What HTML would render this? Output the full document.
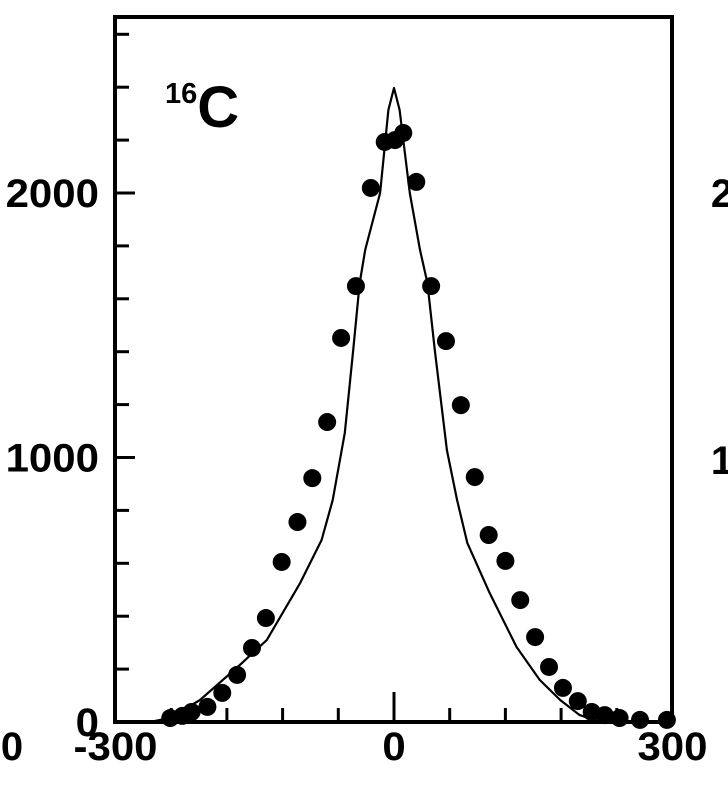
<!DOCTYPE html>
<html><head><meta charset="utf-8"><style>
html,body{margin:0;padding:0;background:#fff;}
svg{display:block;}
text{font-family:"Liberation Sans",sans-serif;font-weight:bold;fill:#000;}
</style></head><body>
<svg id="chart" width="728" height="794" viewBox="0 0 728 794" xmlns="http://www.w3.org/2000/svg">
<g id="plot"></g>
</svg>
<script>
const xTickLabels = [-300, 0, 300];
const yTickLabels = [0, 1000, 2000];
const dataX = [-241,-228,-218,-201,-185,-169,-153,-138,-121,-104,-88,-72,-57,-41,-25,-10,1,10,24,40,56,72,87,102,120,136,152,167,182,198,213,227,243,265,294];
const dataY = [15,23,38,57,110,178,280,393,605,756,922,1134,1452,1648,2019,2193,2200,2227,2042,1648,1440,1198,926,707,609,461,321,208,129,79,38,26,15,8,8];
const curveX = [-300,-263,-241,-209,-166,-137,-101,-78,-66,-53,-44,-37,-31,-15,-6,0,6,17,28,36,44,57,68,79,103,132,157,179,200,222,300];
const curveY = [0,0,15,83,216,310,526,688,839,1093,1406,1660,1785,2000,2314,2397,2314,2000,1785,1660,1406,1028,839,677,488,284,159,83,26,0,0];

const L=115,R=672,T=17,B=722;
const xs = v => 394 + v*0.9283;
const ys = v => B - v*0.2645;
const NS="http://www.w3.org/2000/svg";
const g=document.getElementById('plot');
function mk(tag,attrs){const e=document.createElementNS(NS,tag);for(const k in attrs)e.setAttribute(k,attrs[k]);g.appendChild(e);return e;}

let fr=mk('rect',{x:L,y:T,width:R-L,height:B-T,fill:'none',stroke:'#000','stroke-width':4});



for(let v=0; v<=2600; v+=200){
  const major = v%1000===0;
  const t=mk('line',{x1:L,x2:L+(major?20:14),y1:ys(v),y2:ys(v),stroke:'#000','stroke-width':3});
  
  
}
for(let v=-240; v<=240; v+=60){
  const major = v===0;
  const t=mk('line',{x1:xs(v),x2:xs(v),y1:B,y2:B-(major?30:14),stroke:'#000','stroke-width':3});
  
  
}
const FS=40, SX=1.05;
yTickLabels.forEach(v=>{
  const x=99;
  const t=mk('text',{x:x,y:ys(v)+14,'text-anchor':'end','font-size':FS,transform:`translate(${x},0) scale(${SX},1) translate(${-x},0)`});
  t.textContent=v;
  
  
});
xTickLabels.forEach(v=>{
  const x=xs(v);
  const t=mk('text',{x:x,y:760,'text-anchor':'middle','font-size':FS,transform:`translate(${x},0) scale(${SX},1) translate(${-x},0)`});
  t.textContent=v;
  
  
});
[[12,760,'0'],[722,207,'2'],[722,474,'1']].forEach(a=>{
  const t=mk('text',{x:a[0],y:a[1],'text-anchor':'middle','font-size':FS});
  t.textContent=a[2];
  
  
});
const pts=curveX.map((x,i)=>xs(x).toFixed(1)+','+ys(curveY[i]).toFixed(1)).join(' ');
const pl=mk('polyline',{points:pts,fill:'none',stroke:'#000','stroke-width':2.2,'stroke-linejoin':'round'});


dataX.forEach((x,i)=>{
  const c=mk('circle',{cx:xs(x),cy:ys(dataY[i]),r:9,fill:'#000'});
  
  
});
const lb=mk('text',{x:165,y:127,'font-size':58});


const s1=document.createElementNS(NS,'tspan');s1.setAttribute('font-size','29');s1.setAttribute('dy','-24');s1.textContent='16';lb.appendChild(s1);
const s2=document.createElementNS(NS,'tspan');s2.setAttribute('dy','24');s2.textContent='C';lb.appendChild(s2);
</script>
</body></html>
